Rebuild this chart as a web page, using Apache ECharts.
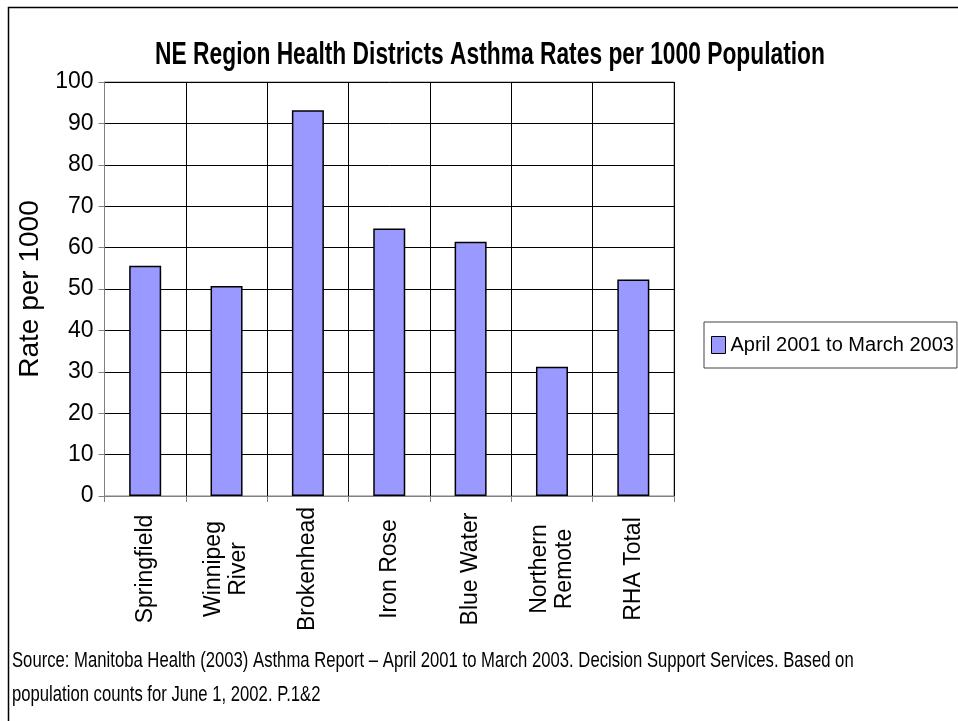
<!DOCTYPE html>
<html>
<head>
<meta charset="utf-8">
<title>NE Region Health Districts Asthma Rates per 1000 Population</title>
<script src="https://cdn.jsdelivr.net/npm/echarts@6/dist/echarts.min.js"></script>
<style>
  html, body { margin: 0; padding: 0; background: #fff; }
  #chart { width: 958px; height: 721px; }
</style>
</head>
<body>
<div id="chart"></div>
<script>
// Districts shown along the x axis
const districts = ['Springfield', 'Winnipeg\nRiver', 'Brokenhead', 'Iron Rose', 'Blue Water', 'Northern\nRemote', 'RHA Total'];
// Asthma rate per 1000 population, April 2001 to March 2003
const rates = [55.6, 50.7, 93.2, 64.6, 61.4, 31.2, 52.3];
const seriesName = 'April 2001 to March 2003';
const yTicks = { min: 0, max: 100, interval: 10 };

const titleText = 'NE Region Health Districts Asthma Rates per 1000 Population';
const sourceLines = [
  'Source: Manitoba Health (2003) Asthma Report \u2013 April 2001 to March 2003. Decision Support Services. Based on',
  'population counts for June 1, 2002. P.1&2'
];

const sans = '"Liberation Sans", Arial, sans-serif';

const chart = echarts.init(document.getElementById('chart'), null, { renderer: 'canvas' });

chart.setOption({
  backgroundColor: '#fff',
  animation: false,
  grid: { left: 104.5, top: 82, right: 284, bottom: 225, show: true, borderColor: '#808080', borderWidth: 1 },
  legend: {
    data: [seriesName],
    left: 704, top: 322,
    orient: 'vertical',
    itemWidth: 14, itemHeight: 17, itemGap: 0,
    padding: [13, 3, 13, 7],
    borderColor: '#444', borderWidth: 1,
    icon: 'rect',
    itemStyle: { borderColor: '#000', borderWidth: 1 },
    textStyle: { fontFamily: sans, fontSize: 20, color: '#000' }
  },
  xAxis: {
    type: 'category',
    data: districts,
    axisLine: { lineStyle: { color: '#808080', width: 1 } },
    axisTick: { show: true, length: 6, lineStyle: { color: '#808080' } },
    splitLine: { show: true, lineStyle: { color: '#000', width: 1 } },
    axisLabel: {
      interval: 0, rotate: 90, margin: 73,
      align: 'center', verticalAlign: 'middle',
      fontFamily: sans, fontSize: 23, color: '#000', lineHeight: 25
    }
  },
  yAxis: {
    type: 'value',
    min: yTicks.min, max: yTicks.max, interval: yTicks.interval,
    name: 'Rate per 1000',
    nameLocation: 'middle', nameGap: 51, nameRotate: 90,
    nameTextStyle: { fontFamily: sans, fontSize: 28, color: '#000' },
    axisLine: { show: true, lineStyle: { color: '#808080', width: 1 } },
    axisTick: { show: true, length: 6, lineStyle: { color: '#808080' } },
    splitLine: { show: true, lineStyle: { color: '#000', width: 1 } },
    axisLabel: { fontFamily: sans, fontSize: 23, color: '#000', margin: 11 }
  },
  series: [{
    name: seriesName,
    type: 'bar',
    data: rates,
    barWidth: 32,
    itemStyle: { color: '#9999FF', borderColor: '#000', borderWidth: 1.5 }
  }],
  graphic: [
    { type: 'rect', left: 6, top: 5, shape: { width: 960, height: 730 },
      style: { fill: null, stroke: '#000', lineWidth: 1.5 }, silent: true },
    { type: 'text', x: 490, y: 55, scaleX: 0.735,
      style: { text: titleText, font: 'bold 31px ' + sans, fill: '#000', align: 'center', verticalAlign: 'middle' } },
    { type: 'text', x: 12, y: 650, scaleX: 0.758,
      style: { text: sourceLines[0], font: '22px ' + sans, fill: '#000' } },
    { type: 'text', x: 12, y: 684, scaleX: 0.758,
      style: { text: sourceLines[1], font: '22px ' + sans, fill: '#000' } }
  ]
});
</script>
</body>
</html>
